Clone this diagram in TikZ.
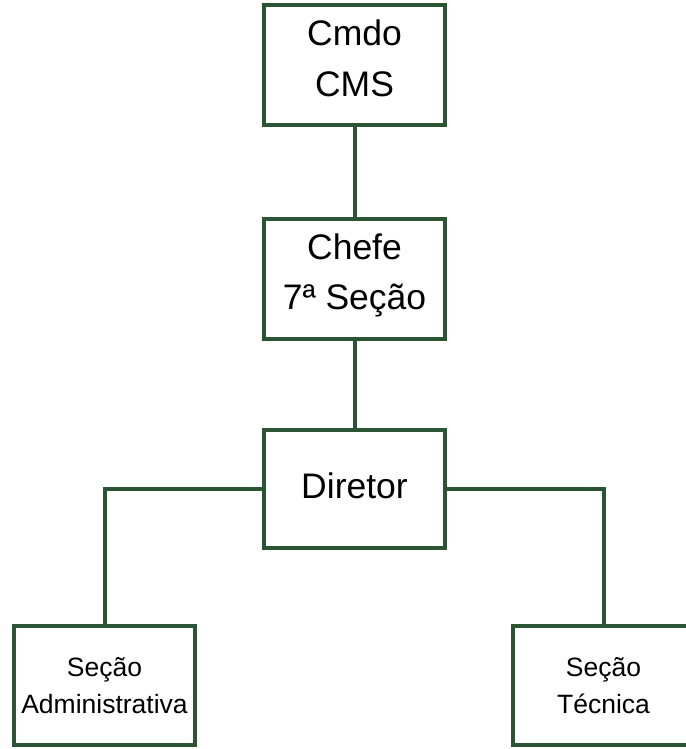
\documentclass[tikz,border=0pt]{standalone}
\usepackage{fontspec}
\setmainfont{Liberation Sans}
\definecolor{boxgreen}{HTML}{2B5434}
\begin{document}
\begin{tikzpicture}[x=1pt,y=-1pt,
  box/.style={draw=boxgreen,line width=4pt,fill=white,minimum width=181pt,inner sep=0pt,align=center},
  bigbox/.style={box,minimum height=120pt,font=\fontsize{35.5}{50.5}\selectfont,text depth=15pt},
  smallbox/.style={box,minimum height=119pt,font=\fontsize{26.5}{37}\selectfont},
  conn/.style={draw=boxgreen,line width=4pt}]
\useasboundingbox (0,0) rectangle (685,749);
\node[bigbox] (cmdo) at (354.5,65.5) {Cmdo\\CMS};
\node[bigbox] (chefe) at (354.5,279) {Chefe\\7ª Seção};
\node[bigbox,minimum height=118pt,text depth=7pt] (dir) at (354.5,489) {Diretor};
\node[smallbox] (adm) at (104.5,685.5) {Seção\\Administrativa};
\node[smallbox] (tec) at (603.5,685.5) {Seção\\Técnica};
\draw[conn] (cmdo.south) -- (chefe.north);
\draw[conn] (chefe.south) -- (dir.north);
\draw[conn] (dir.west) -| (adm.north);
\draw[conn] (dir.east) -| (tec.north);
\end{tikzpicture}
\end{document}
